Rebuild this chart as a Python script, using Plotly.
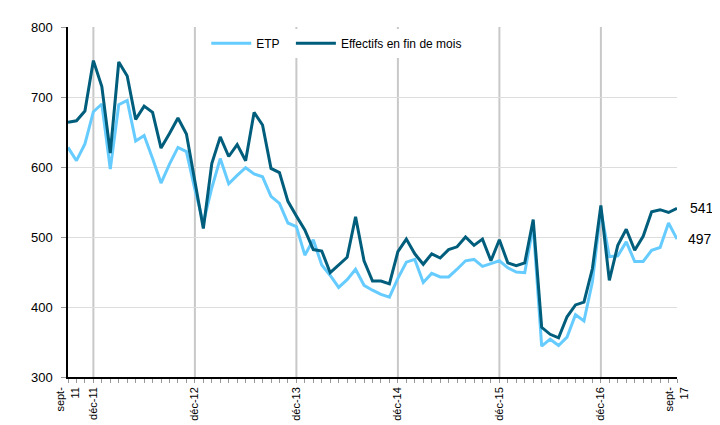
import plotly.graph_objects as go

months = list(range(73))  # sept-11 .. sept-17, monthly index
tick_pos = [0, 3, 15, 27, 39, 51, 63, 72]
tick_text = ["sept-<br>11", "déc-11", "déc-12", "déc-13", "déc-14", "déc-15", "déc-16", "sept-<br>17"]
dec_pos = [3, 15, 27, 39, 51, 63]

etp = [628, 609, 633, 679, 690, 597, 689, 695, 637, 645, 612, 577, 604, 628, 622,
       568, 520, 570, 612, 576, 588, 599, 590, 586, 558, 548, 520, 515, 474, 496,
       460, 445, 428, 439, 454, 431, 424, 418, 414, 441, 464, 468, 435, 448, 443,
       443, 454, 466, 468, 458, 462, 466, 456, 450, 449, 516, 344, 354, 345, 357,
       389, 380, 436, 538, 472, 473, 493, 465, 465, 481, 485, 520, 497]

effectifs = [664, 666, 680, 752, 715, 620, 750, 730, 668, 687, 678, 627, 648, 670, 647,
             578, 512, 605, 643, 615, 632, 609, 678, 660, 598, 592, 551, 530, 510, 482,
             480, 449, 460, 471, 529, 466, 437, 437, 433, 479, 497, 476, 461, 476, 470,
             482, 486, 500, 488, 497, 466, 496, 463, 459, 463, 525, 371, 361, 356, 386,
             403, 407, 455, 545, 438, 488, 511, 481, 501, 536, 539, 535, 541]

C_ETP = "#66CCFF"
C_EFF = "#005E7C"

fig = go.Figure()
fig.add_trace(go.Scatter(x=months, y=etp, mode="lines", name="ETP",
                         line=dict(color=C_ETP, width=3), legend="legend"))
fig.add_trace(go.Scatter(x=months, y=effectifs, mode="lines", name="Effectifs en fin de mois",
                         line=dict(color=C_EFF, width=3), legend="legend2"))

for d in dec_pos:
    fig.add_shape(type="line", xref="x", yref="y", x0=d, x1=d, y0=300, y1=800,
                  line=dict(color="#C8C8C8", width=2), layer="below")

# white legend box background (covers the vertical lines behind the legend)
fig.add_shape(type="rect", xref="paper", yref="paper", x0=0.200, x1=0.660, y0=0.907, y1=0.989,
              fillcolor="white", line=dict(width=0), layer="below")

fig.add_annotation(x=months[-1], y=effectifs[-1], text=str(effectifs[-1]), showarrow=False,
                   xanchor="left", xshift=11, font=dict(size=14, color="#000"))
fig.add_annotation(x=months[-1], y=etp[-1], text=str(etp[-1]), showarrow=False,
                   xanchor="left", xshift=9, font=dict(size=14, color="#000"))

leg_common = dict(orientation="h", y=0.995, xanchor="left", yanchor="top",
                  bgcolor="white", font=dict(size=12), itemwidth=40)

# page body has an 8px margin: offset margins so the plot area lands at 68..677 x 24..380
fig.update_layout(
    width=720, height=425,
    margin=dict(l=60, r=51, t=16, b=53),
    paper_bgcolor="white", plot_bgcolor="white",
    font=dict(family="Liberation Sans, Arial, sans-serif", color="#000"),
    showlegend=True,
    legend=dict(x=0.227, **leg_common),
    legend2=dict(x=0.366, **leg_common),
    xaxis=dict(range=[0, 72], tickvals=tick_pos, ticktext=tick_text, tickangle=-90,
               showgrid=False, zeroline=False, showline=True, linecolor="#000", linewidth=1.5,
               ticks="outside", ticklen=4, tickcolor="#999", tickfont=dict(size=11),
               minor=dict(dtick=1, tick0=0, ticks="outside", ticklen=4, tickcolor="#999", showgrid=False)),
    yaxis=dict(range=[300, 800], dtick=100, showgrid=True, gridcolor="#DDDDDD", gridwidth=1,
               zeroline=False, showline=True, linecolor="#000", linewidth=1.5,
               ticks="outside", ticklen=5, tickcolor="#999", tickfont=dict(size=13),
               ticklabelstandoff=6),
)

fig.write_html("out.html")
